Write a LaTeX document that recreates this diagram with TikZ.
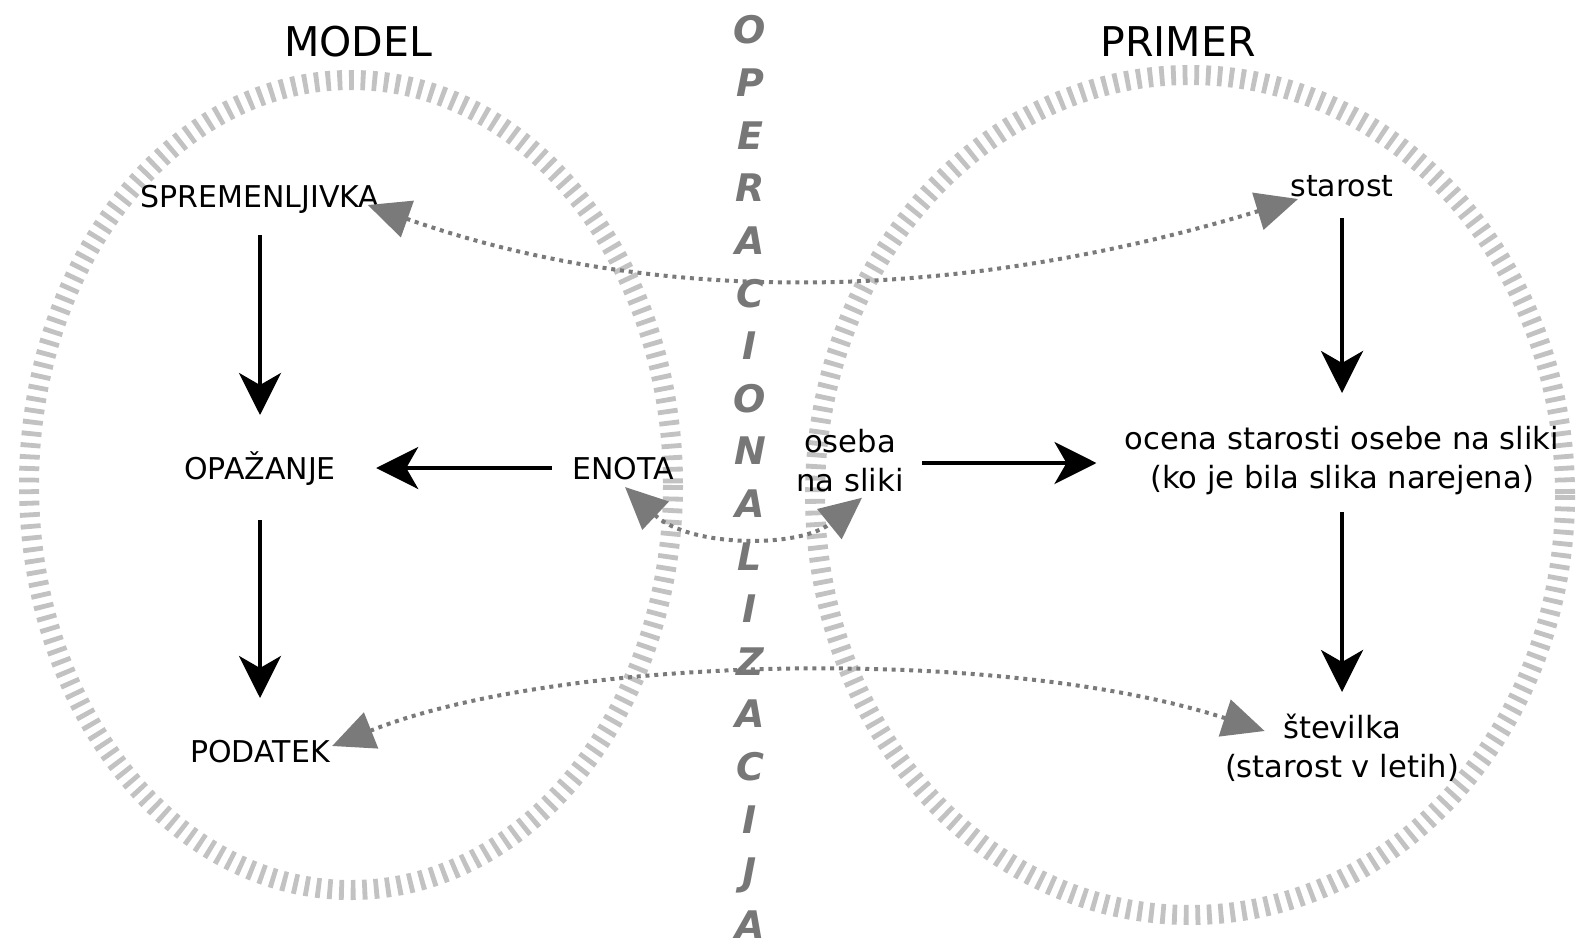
\documentclass[tikz,border=0pt]{standalone}
\usepackage{fontspec}
\setmainfont{DejaVu Sans}
\usetikzlibrary{arrows.meta,calc}
\definecolor{ringc}{HTML}{C2C2C2}
\definecolor{dotc}{HTML}{7A7A7A}
\definecolor{opc}{HTML}{777777}
\begin{document}
\begin{tikzpicture}[x=0.5pt,y=-0.5pt,
  ringdash/.style={draw=ringc,line width=10pt,dash pattern=on 2.4pt off 3.4pt},
  blk/.style={draw=black,line width=2pt,-{Stealth[length=21pt,width=21pt,inset=6pt]}},
  dotarr/.style={draw=dotc,line width=2pt,dash pattern=on 2pt off 2.4pt,
    {Triangle[length=21pt,width=19pt,fill=dotc]}-{Triangle[length=21pt,width=19pt,fill=dotc]}},
  lbl/.style={inner sep=0pt,anchor=base,text height=11pt,text depth=0pt,font=\fontsize{15}{18}\selectfont},
  lbltwo/.style={inner sep=0pt,anchor=center,align=center,font=\fontsize{15.3}{19.5}\selectfont},
  ttl/.style={inner sep=0pt,anchor=base,font=\fontsize{20.5}{24}\selectfont},
  opl/.style={inner sep=0pt,anchor=base,text=opc,font=\fontsize{19}{22}\selectfont\bfseries\itshape}]
\useasboundingbox (0,0) rectangle (1577,947);
\fill[white] (0,0) rectangle (1577,947);
% rings
\draw[ringdash] (351,485) ellipse [x radius=322, y radius=405];
\draw[ringdash] (1190,495) ellipse [x radius=375, y radius=420];
% vertical word
\foreach \l [count=\i from 0] in {O,P,E,R,A,C,I,O,N,A,L,I,Z,A,C,I,J,A}
  \node[opl] (op\i) at (750,{44+52.6*\i}) {\l};
% titles
\node[ttl] (model) at (358,57) {MODEL};
\node[ttl] (primer) at (1178,57) {PRIMER};
% left column
\node[lbl] (sprem) at (260,207) {SPREMENLJIVKA};
\node[lbl] (opaz) at (260,479) {OPAŽANJE};
\node[lbl] (podatek) at (260,762) {PODATEK};
\node[lbl] (enota) at (623,479) {ENOTA};
% right side
\node[lbl] (starost) at (1342,196) {starost};
\node[lbltwo] (oseba) at (850,461) {oseba\\na sliki};
\node[lbltwo] (ocena) at (1342,461) {ocena starosti osebe na sliki\\(ko je bila slika narejena)};
\node[lbltwo] (stevilka) at (1342,748) {številka\\(starost v letih)};
% solid arrows
\draw[blk] ($(sprem.base)+(0,28)$) -- ($(opaz.base)+(0,-64)$);
\draw[blk] ($(opaz.base)+(0,41)$) -- ($(podatek.base)+(0,-64)$);
\draw[blk] ($(enota.west)+(-20,0)$) -- ($(opaz.east)+(40,0)$);
\draw[blk] ($(oseba.east)+(18,2)$) -- ($(ocena.west)+(-28,2)$);
\draw[blk] ($(starost.base)+(0,22)$) -- ($(ocena.center)+(0,-68)$);
\draw[blk] ($(ocena.center)+(0,51)$) -- ($(stevilka.center)+(0,-56)$);
% dotted arrows
\draw[dotarr] ($(sprem.base east)+(-12,-2)$) .. controls (650,305) and (950,305) .. ($(starost.base west)+(8,3)$);
\draw[dotarr] ($(enota.base)+(2,8)$) .. controls (690,548) and (800,548) .. ($(oseba.south)+(12,5)$);
\draw[dotarr] ($(podatek.base east)+(2,-16)$) .. controls (560,655) and (1000,645) .. ($(stevilka.west)+(40,-17)$);
\end{tikzpicture}
\end{document}
